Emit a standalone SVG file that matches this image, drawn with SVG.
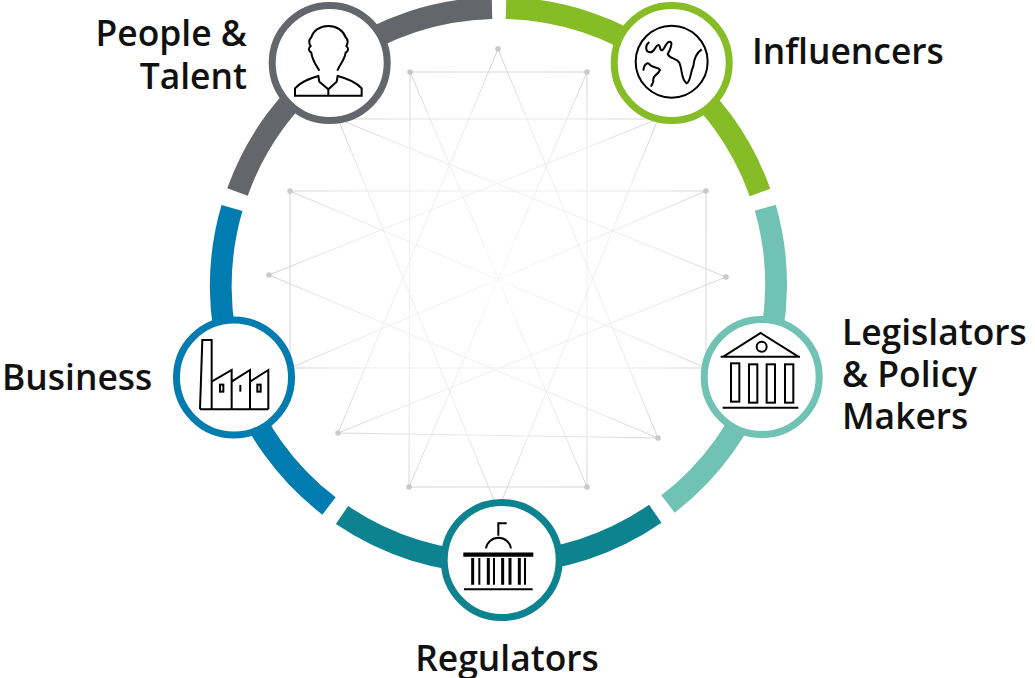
<svg xmlns="http://www.w3.org/2000/svg" width="1035" height="678" viewBox="0 0 1035 678">
<style>
text{font-family:"Open Sans","Noto Sans","Liberation Sans",sans-serif;font-weight:600;font-size:35.400px;fill:#111}
.seg{fill:none;stroke-width:21.800}
.disc{fill:#fff;stroke-width:7}
.ico{fill:none;stroke:#000;stroke-width:6}
.dot{fill:#c9c9c9}
#web line{stroke:url(#fade);stroke-width:1}
</style>
<defs>
<radialGradient id="fade" gradientUnits="userSpaceOnUse" cx="498" cy="279" r="230">
<stop offset="0" stop-color="#f5f5f5"/><stop offset="0.7" stop-color="#e9e9e9"/><stop offset="1" stop-color="#d2d2d2"/>
</radialGradient>
</defs>
<rect width="1035" height="678" fill="#fff"/>
<g id="web">
<line x1="498" y1="49" x2="658" y2="438"/>
<line x1="658" y1="438" x2="269" y2="275"/>
<line x1="269" y1="275" x2="658" y2="119"/>
<line x1="658" y1="119" x2="498" y2="510"/>
<line x1="498" y1="510" x2="338" y2="119"/>
<line x1="338" y1="119" x2="726" y2="277"/>
<line x1="726" y1="277" x2="338" y2="433"/>
<line x1="338" y1="433" x2="498" y2="49"/>
<line x1="338" y1="119" x2="658" y2="119"/>
<line x1="338" y1="433" x2="658" y2="438"/>
<line x1="410" y1="72" x2="587" y2="72"/>
<line x1="409" y1="487" x2="587" y2="487"/>
<line x1="290" y1="191" x2="706" y2="191"/>
<line x1="290" y1="368" x2="706" y2="368"/>
<line x1="410" y1="72" x2="409" y2="487"/>
<line x1="587" y1="72" x2="587" y2="487"/>
<line x1="290" y1="191" x2="290" y2="368"/>
<line x1="706" y1="191" x2="706" y2="368"/>
<line x1="587" y1="72" x2="409" y2="487"/>
<line x1="410" y1="72" x2="587" y2="487"/>
<line x1="706" y1="191" x2="290" y2="368"/>
<line x1="290" y1="191" x2="706" y2="368"/>
<circle class="dot" cx="498" cy="49" r="2.800"/><circle class="dot" cx="410" cy="72" r="2.800"/><circle class="dot" cx="587" cy="72" r="2.800"/>
<circle class="dot" cx="290" cy="191" r="2.800"/><circle class="dot" cx="706" cy="191" r="2.800"/><circle class="dot" cx="269" cy="275" r="2.800"/>
<circle class="dot" cx="726" cy="277" r="2.800"/><circle class="dot" cx="338" cy="433" r="2.800"/><circle class="dot" cx="658" cy="438" r="2.800"/>
<circle class="dot" cx="409" cy="487" r="2.800"/><circle class="dot" cx="587" cy="487" r="2.800"/>
</g>
<g id="ring">
<path class="seg" stroke="#86bc25" d="M506,8 A277.200,277.200 0 0 1 760,192.500"/>
<path class="seg" stroke="#6fc2b4" d="M765.300,207.700 A277.200,277.200 0 0 1 668,504"/>
<path class="seg" stroke="#0d8390" d="M655.300,513.700 A277.200,277.200 0 0 1 342,515"/>
<path class="seg" stroke="#007cb0" d="M329,506 A277.200,277.200 0 0 1 232,208"/>
<path class="seg" stroke="#63666a" d="M237.500,192 A277.200,277.200 0 0 1 492,8"/>
</g>
<g id="people">
<circle class="disc" stroke="#63666a" cx="329.700" cy="63" r="57.500"/>
<g transform="translate(240,0) scale(.3333)" class="ico">
<path d="M238,212 C228,195 216,180 214,158 C205,152 204,145 212,138 C205,128 208,118 214,112 C220,92 240,78 265,78 C290,78 310,92 317,112 C323,118 325,128 319,138 C327,145 326,152 317,158 C314,180 300,192 292,212"/>
<path d="M165,287 V265 C180,248 210,235 235,228 L238,245 L265,268 L290,245 L293,228 C320,235 350,248 365,265 V287 Z M265,268 V287"/>
</g>
<text text-anchor="end" x="247" y="46">People &amp;</text>
<text text-anchor="end" x="247" y="89">Talent</text>
</g>
<g id="influencers">
<circle class="disc" stroke="#86bc25" cx="671.700" cy="63" r="57.500"/>
<g transform="translate(590,0) scale(.3333)" class="ico">
<circle cx="245" cy="185" r="108"/>
<path d="M178,126 C165,135 165,155 180,157 C195,158 195,135 205,135 C212,135 208,155 218,150 C225,145 228,124 240,125 C250,128 240,150 233,162 C240,178 258,172 268,188 C278,210 272,238 290,250 C302,245 300,220 310,198 C312,178 318,160 335,148"/>
<path d="M160,212 C162,190 175,185 180,195 C190,205 205,200 210,210 C205,225 185,225 190,245 L183,260"/>
</g>
<text x="752" y="64">Influencers</text>
</g>
<g id="legislators">
<circle class="disc" stroke="#6fc2b4" cx="761.700" cy="377" r="57.500"/>
<g transform="translate(680,300) scale(.3333)" class="ico">
<path d="M130,170 L242,99 L355,170 M122,170 H360"/>
<circle cx="245" cy="140" r="15"/>
<rect x="153" y="190" width="25" height="115"/>
<rect x="207" y="193" width="25" height="115"/>
<rect x="260" y="193" width="25" height="115"/>
<rect x="315" y="193" width="25" height="115"/>
<path d="M128,323 H355"/>
</g>
<text x="842" y="345">Legislators</text>
<text x="842" y="387">&amp; Policy</text>
<text x="842" y="429">Makers</text>
</g>
<g id="regulators">
<circle class="disc" stroke="#0d8390" cx="501.700" cy="560" r="57.500"/>
<g transform="translate(430,490) scale(.3333)" class="ico">
<path d="M168,175 A38,38 0 0 1 243,175 M205,137 V100 H230"/>
<path d="M100,194 H310" stroke-width="13"/>
<path d="M128,204 V284 M175,204 V284 M218,204 V284 M240,204 V284 M268,204 V284" stroke-width="9"/>
<path d="M148,204 V284 M192,204 V284 M285,204 V284" stroke-width="6"/>
<path d="M102,298 H308"/>
</g>
<text text-anchor="middle" x="507" y="671">Regulators</text>
</g>
<g id="business">
<circle class="disc" stroke="#007cb0" cx="234" cy="377.500" r="57.500"/>
<g transform="translate(160,310) scale(.3333)" class="ico">
<path d="M120,298 L127,90 H155 V298 M155,215 L215,180 V298 M215,215 L270,180 V298 M270,215 L325,180 V298 M120,298 H325"/>
<rect x="180" y="224" width="10" height="21"/>
<path d="M241,225 V245"/>
<rect x="292" y="224" width="10" height="21"/>
</g>
<text x="2" y="390">Business</text>
</g>
</svg>
